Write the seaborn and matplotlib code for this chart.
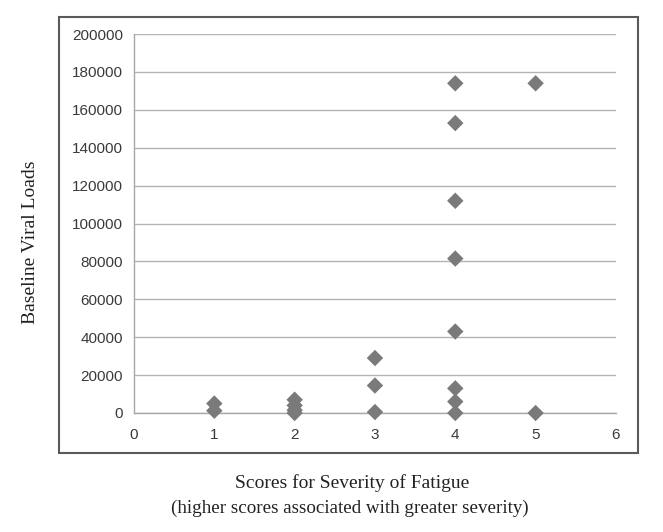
import matplotlib
matplotlib.use("Agg")
import matplotlib.pyplot as plt
import pandas as pd
import seaborn as sns
from matplotlib.patches import Rectangle

# values
fatigue_scores = [1, 1, 2, 2, 2, 2, 3, 3, 3, 4, 4, 4, 4, 4, 4, 4, 4, 5, 5]
viral_loads = [5000, 1200, 7000, 4000, 1500, 0, 29000, 14500, 500,
               174000, 153000, 112000, 81500, 43000, 13000, 6000, 0,
               174000, 0]
x_ticks = [0, 1, 2, 3, 4, 5, 6]
y_ticks = list(range(0, 200001, 20000))

df = pd.DataFrame({"score": fatigue_scores, "load": viral_loads})

sns.set_style("white")
plt.rcParams["font.family"] = ["Liberation Sans", "DejaVu Sans"]

fig = plt.figure(figsize=(6.63, 5.32), dpi=100)
ax = fig.add_axes([0.2021, 0.2237, 0.7269, 0.7123])

sns.scatterplot(data=df, x="score", y="load", marker="D", s=70,
                color="#7a7a7a", edgecolor="none", ax=ax, zorder=3,
                clip_on=False)

ax.set_xlim(0, 6)
ax.set_ylim(0, 200000)
ax.set_xticks(x_ticks)
ax.set_yticks(y_ticks)
ax.set_xticklabels([str(t) for t in x_ticks])
ax.set_yticklabels([str(t) for t in y_ticks])
ax.yaxis.grid(True, color="#b4b4b4", linewidth=1.0)
ax.xaxis.grid(False)
ax.set_axisbelow(True)

for side in ["top", "right"]:
    ax.spines[side].set_visible(False)
for side in ["left", "bottom"]:
    ax.spines[side].set_color("#a8a8a8")
    ax.spines[side].set_linewidth(1.0)

ax.tick_params(axis="both", direction="out", length=5, width=1.0,
               color="#a8a8a8", labelsize=11, labelcolor="#3a3a3a")
ax.tick_params(axis="y", pad=3)
ax.tick_params(axis="x", pad=6)

ax.set_xlabel("")
ax.set_ylabel("")

serif = ["Liberation Serif", "DejaVu Serif"]
fig.text(0.531, 0.092, "Scores for Severity of Fatigue", ha="center",
         va="center", fontsize=14, family=serif, color="#222222")
fig.text(0.527, 0.045, "(higher scores associated with greater severity)",
         ha="center", va="center", fontsize=13.7, family=serif, color="#222222")
fig.text(0.046, 0.545, "Baseline Viral Loads", ha="center", va="center",
         rotation=90, fontsize=14, family=serif, color="#222222")

# outer chart frame
fig.patches.append(Rectangle((0.089, 0.1485), 0.873, 0.8195,
                             transform=fig.transFigure, fill=False,
                             edgecolor="#5a5a5a", linewidth=1.5))

fig.savefig("out.png", dpi=100)
